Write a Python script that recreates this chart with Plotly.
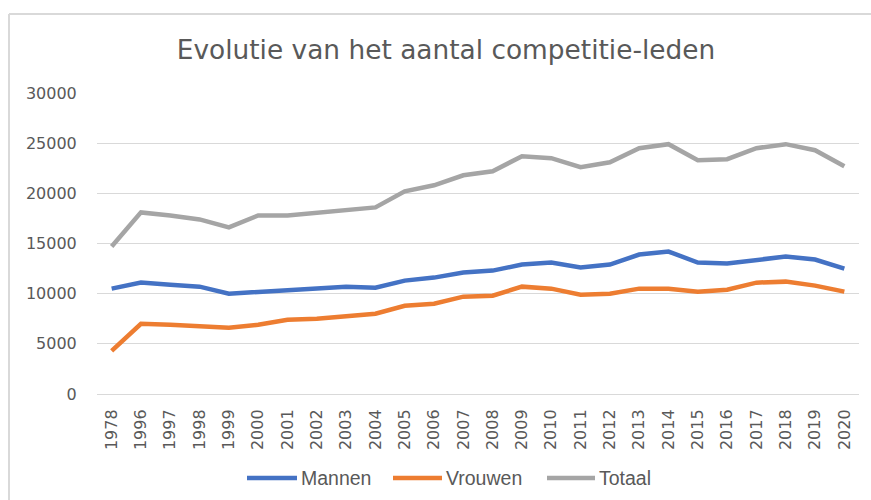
import plotly.graph_objects as go

years = ["1978", "1996", "1997", "1998", "1999", "2000", "2001", "2002", "2003",
         "2004", "2005", "2006", "2007", "2008", "2009", "2010", "2011", "2012",
         "2013", "2014", "2015", "2016", "2017", "2018", "2019", "2020"]
mannen = [10500, 11100, 10900, 10700, 10000, 10200, 10400, 10600, 10700,
          10600, 11300, 11600, 12100, 12300, 12900, 13100, 12600, 12900,
          13900, 14200, 13100, 13000, 13300, 13700, 13400, 12500]
vrouwen = [4300, 7000, 6900, 6700, 6600, 6900, 7400, 7500, 7800,
           8000, 8800, 9000, 9700, 9800, 10700, 10500, 9900, 10000,
           10500, 10500, 10200, 10400, 11100, 11200, 10800, 10200]
totaal = [14700, 18100, 17800, 17400, 16600, 17800, 17800, 18100, 18400,
          18600, 20200, 20800, 21800, 22200, 23700, 23500, 22600, 23100,
          24500, 24900, 23300, 23400, 24500, 24900, 24300, 22700]
y_ticks = [0, 5000, 10000, 15000, 20000, 25000, 30000]
y_tick_labels = ["0", "5000", "10000", "15000", "20000", "25000", "30000"]

series = [("Mannen", mannen, "#4472C4"),
          ("Vrouwen", vrouwen, "#ED7D31"),
          ("Totaal", totaal, "#A5A5A5")]

fig = go.Figure()
for name, vals, col in series:
    fig.add_trace(go.Scatter(x=years, y=vals, name=name, mode="lines",
                             line=dict(color=col, width=4.5), showlegend=False))

W, H = 871, 500
plot_left, plot_right, plot_top, plot_bottom = 97, 859, 93, 394
L, R = plot_left, W - plot_right
T, B = plot_top, H - plot_bottom
pw, ph = plot_right - plot_left, plot_bottom - plot_top

def px_x(px):
    return (px - plot_left) / pw

def px_y(py):
    return (plot_bottom - py) / ph

grey = "#595959"

legend_y = 478
legend_lines = [(247, 297), (393, 442), (547, 595)]

shapes = [
    dict(type="line", xref="paper", yref="paper", x0=px_x(9), x1=px_x(9),
         y0=px_y(14), y1=px_y(520), line=dict(color="#d9d9d9", width=2)),
    dict(type="line", xref="paper", yref="paper", x0=px_x(9), x1=px_x(890),
         y0=px_y(14), y1=px_y(14), line=dict(color="#d9d9d9", width=2)),
]
annotations = []
for (name, _, col), (a, b) in zip(series, legend_lines):
    shapes.append(dict(type="line", xref="paper", yref="paper",
                       x0=px_x(a), x1=px_x(b), y0=px_y(legend_y), y1=px_y(legend_y),
                       line=dict(color=col, width=4.5)))
    annotations.append(dict(text=name, xref="paper", yref="paper",
                            x=px_x(b + 2), y=px_y(legend_y), xanchor="left",
                            yanchor="middle", showarrow=False,
                            font=dict(family="Liberation Sans", size=19.5, color=grey)))

fig.update_layout(
    width=W, height=H,
    margin=dict(l=L, r=R, t=T, b=B, autoexpand=False),
    paper_bgcolor="white", plot_bgcolor="white",
    title=dict(text="Evolutie van het aantal competitie-leden",
               x=446 / W, xanchor="center", y=1 - 50 / H, yanchor="middle",
               font=dict(family="DejaVu Sans", size=26.4, color=grey)),
    xaxis=dict(type="category", range=[-0.5, len(years) - 0.5],
               tickangle=-90, ticks="outside", ticklen=8,
               tickcolor="rgba(0,0,0,0)", showgrid=False, showline=False,
               tickfont=dict(family="DejaVu Sans", size=16, color=grey)),
    yaxis=dict(range=[0, 30000], tickvals=y_ticks, ticktext=y_tick_labels,
               ticks="outside", ticklen=16,
               tickcolor="rgba(0,0,0,0)", showgrid=True, gridcolor="#d9d9d9",
               gridwidth=1.3, zeroline=True, zerolinecolor="#d9d9d9",
               zerolinewidth=1.3, showline=False,
               tickfont=dict(family="DejaVu Sans", size=16, color=grey)),
    showlegend=False,
    shapes=shapes,
    annotations=annotations,
)

fig.write_html("out.html",
               config={"displayModeBar": False},
               post_script="document.body.style.margin='0';"
                           "document.body.style.overflow='hidden';")
